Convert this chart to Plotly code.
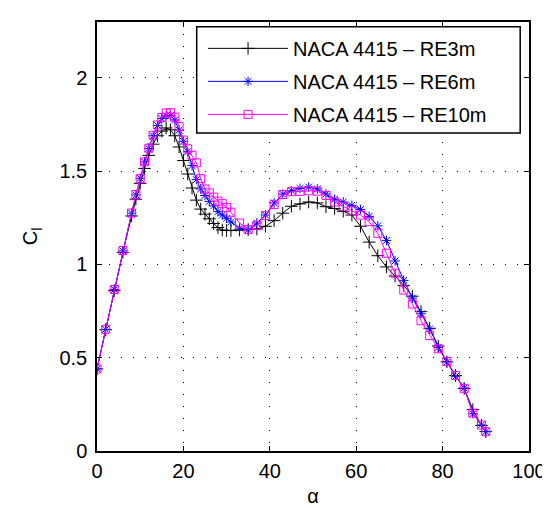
import plotly.graph_objects as go

alpha = [0, 2, 4, 6, 8, 9, 10, 11, 12, 13, 14, 15, 16, 17, 18, 19, 20, 21, 22, 23, 24, 25,
         26, 27, 28, 29, 30, 31, 33, 35, 37, 39, 41, 43, 45, 47, 49, 51, 53, 55, 57, 59,
         61, 63, 65, 67, 69, 71, 73, 75, 77, 79, 81, 83, 85, 87, 89, 90]

cl_re3m = [0.44, 0.65, 0.86, 1.065, 1.26, 1.35, 1.435, 1.515, 1.585, 1.645, 1.69, 1.715,
           1.732, 1.722, 1.69, 1.63, 1.557, 1.485, 1.41, 1.345, 1.297, 1.27, 1.245, 1.22,
           1.198, 1.185, 1.182, 1.182, 1.185, 1.187, 1.19, 1.205, 1.235, 1.275, 1.312,
           1.325, 1.335, 1.33, 1.31, 1.3, 1.285, 1.265, 1.205, 1.12, 1.047, 0.987, 0.938,
           0.888, 0.83, 0.747, 0.658, 0.563, 0.478, 0.405, 0.335, 0.222, 0.137, 0.104]

cl_re6m = [0.44, 0.652, 0.866, 1.073, 1.275, 1.373, 1.462, 1.55, 1.622, 1.69, 1.745, 1.783,
           1.798, 1.798, 1.775, 1.72, 1.66, 1.605, 1.53, 1.455, 1.405, 1.37, 1.338, 1.314,
           1.283, 1.265, 1.248, 1.228, 1.195, 1.187, 1.222, 1.265, 1.33, 1.377, 1.395,
           1.408, 1.415, 1.405, 1.378, 1.35, 1.335, 1.317, 1.295, 1.258, 1.207, 1.129,
           1.019, 0.915, 0.82, 0.736, 0.655, 0.555, 0.478, 0.4, 0.338, 0.2, 0.14, 0.104]

cl_re10m = [0.44, 0.652, 0.866, 1.075, 1.276, 1.375, 1.46, 1.55, 1.623, 1.693, 1.748, 1.788,
            1.812, 1.814, 1.79, 1.74, 1.667, 1.62, 1.585, 1.545, 1.46, 1.405, 1.384, 1.361,
            1.34, 1.326, 1.306, 1.28, 1.222, 1.187, 1.21, 1.262, 1.322, 1.375, 1.39, 1.392,
            1.395, 1.393, 1.37, 1.335, 1.312, 1.29, 1.265, 1.23, 1.167, 1.06, 0.953, 0.863,
            0.788, 0.698, 0.619, 0.548, 0.48, 0.405, 0.336, 0.203, 0.139, 0.104]

labels = ["NACA 4415 \u2013 RE3m", "NACA 4415 \u2013 RE6m", "NACA 4415 \u2013 RE10m"]
x_ticks = [0, 20, 40, 60, 80, 100]
y_ticks = [0, 0.5, 1, 1.5, 2]

FONT = "Liberation Sans, Arial, Helvetica, sans-serif"

fig = go.Figure()
styles = [
    dict(color="black", symbol="cross-thin-open", size=9),
    dict(color="blue", symbol="asterisk-open", size=8),
    dict(color="magenta", symbol="square-open", size=8),
]
for i, (ys, lab, st) in enumerate(zip([cl_re3m, cl_re6m, cl_re10m], labels, styles)):
    fig.add_trace(go.Scatter(
        x=alpha, y=ys, mode="lines+markers", name=lab, legendgroup=f"g{i}",
        line=dict(color=st["color"], width=1),
        marker=dict(symbol=st["symbol"], size=st["size"], color=st["color"],
                    line=dict(color=st["color"], width=1)),
    ))

axis_common = dict(
    showline=True, linecolor="black", linewidth=1.5, mirror="ticks",
    ticks="inside", ticklen=5, tickcolor="black", tickwidth=1,
    showgrid=True, gridcolor="black", gridwidth=1, griddash="1px,11px",
    zeroline=False, tickfont=dict(family=FONT, size=20, color="black"),
)

fig.update_xaxes(range=[0, 100], tickvals=x_ticks, ticktext=[str(v) for v in x_ticks],
                 ticklabelstandoff=1,
                 title=dict(text="\u03b1", font=dict(family=FONT, size=20, color="black"), standoff=8),
                 **axis_common)
fig.update_yaxes(range=[0, 2.3], tickvals=y_ticks, ticktext=["0", "0.5", "1", "1.5", "2"],
                 ticklabelstandoff=4,
                 title=dict(text="C<sub>l</sub>", font=dict(family=FONT, size=20, color="black"), standoff=16),
                 **axis_common)

# MATLAB-style legend frame, drawn behind the transparent legend
fig.add_shape(type="rect", xref="x domain", yref="y domain",
              x0=0.2308, x1=0.9796, y0=0.7415, y1=0.9887,
              line=dict(color="black", width=1.5), fillcolor="white", layer="above")

fig.update_layout(
    width=550, height=508,
    margin=dict(l=89, r=19, t=13, b=54),
    plot_bgcolor="white", paper_bgcolor="white",
    font=dict(family=FONT, size=20, color="black"),
    legend=dict(x=0.2455, y=0.984, xanchor="left", yanchor="top",
                bgcolor="rgba(0,0,0,0)", borderwidth=0,
                font=dict(family=FONT, size=20, color="black"),
                itemwidth=80, tracegroupgap=4),
    showlegend=True,
)

fig.write_html("out.html")
